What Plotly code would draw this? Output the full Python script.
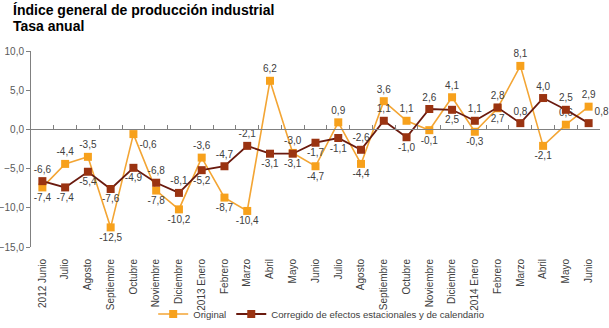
import plotly.graph_objects as go

# Month labels (June 2012 - June 2014)
months = ["2012 Junio", "Julio", "Agosto", "Septiembre", "Octubre", "Noviembre",
          "Diciembre", "2013 Enero", "Febrero", "Marzo", "Abril", "Mayo", "Junio",
          "Julio", "Agosto", "Septiembre", "Octubre", "Noviembre", "Diciembre",
          "2014 Enero", "Febrero", "Marzo", "Abril", "Mayo", "Junio"]

# Annual rate, original series
original = [-7.4, -4.4, -3.5, -12.5, -0.6, -7.8, -10.2, -3.6, -8.7, -10.4, 6.2, -3.0,
            -4.7, 0.9, -4.4, 3.6, 1.1, -0.1, 4.1, -0.3, 2.7, 8.1, -2.1, 0.6, 2.9]

# Annual rate, seasonally and calendar adjusted
corregido = [-6.6, -7.4, -5.4, -7.6, -4.9, -6.8, -8.1, -5.2, -4.7, -2.1, -3.1, -3.1,
             -1.7, -1.1, -2.6, 1.1, -1.0, 2.6, 2.5, 1.1, 2.8, 0.8, 4.0, 2.5, 0.8]

# Label placement per point
pos_original = ["bottom center", "top center", "top center", "bottom center", "bottom right",
                "bottom center", "bottom center", "top center", "bottom center", "bottom center",
                "top center", "top center", "bottom center", "top center", "bottom center",
                "top center", "top center", "bottom center", "top center", "bottom center",
                "bottom center", "top center", "bottom center", "top center", "top center"]
pos_corregido = ["top center", "bottom center", "bottom center", "bottom center", "bottom center",
                 "top center", "top center", "bottom center", "top center", "top center",
                 "bottom center", "bottom center", "bottom center", "bottom center", "top center",
                 "top center", "bottom center", "top center", "bottom center", "top center",
                 "top center", "top center", "top center", "top center", "top right"]

idx = list(range(len(months)))


def fmt(v):
    return f"{v:.1f}".replace(".", ",")


ORANGE_LINE = "#F3A534"
ORANGE_MARK = "#F7A11C"
DARK_LINE = "#6A1A0E"
DARK_MARK = "#9A3311"
FONT = "Liberation Sans, Arial, sans-serif"
LABEL_FONT = dict(family=FONT, size=10, color="#404040")

fig = go.Figure()

fig.add_trace(go.Scatter(
    x=idx, y=original, name="Original", mode="lines+markers+text",
    line=dict(color=ORANGE_LINE, width=1.6),
    marker=dict(symbol="square", size=8, color=ORANGE_MARK),
    text=[fmt(v) for v in original], textposition=pos_original,
    textfont=LABEL_FONT, cliponaxis=False,
    xaxis="x", yaxis="y",
))

fig.add_trace(go.Scatter(
    x=idx, y=corregido, name="Corregido de efectos estacionales y de calendario",
    mode="lines+markers+text",
    line=dict(color=DARK_LINE, width=1.8),
    marker=dict(symbol="square", size=8, color=DARK_MARK),
    text=[fmt(v) for v in corregido], textposition=pos_corregido,
    textfont=LABEL_FONT, cliponaxis=False,
    xaxis="x2", yaxis="y",
))

xrange = [-0.5, len(months) - 0.5]
ymin, ymax = -15, 10
plot_h = 328 - 51 - 81

fig.update_layout(
    width=609, height=328,
    margin=dict(l=31, r=9, t=51, b=81, autoexpand=False),
    paper_bgcolor="white", plot_bgcolor="white",
    separators=",.",
    font=dict(family=FONT, size=10, color="#404040"),
    showlegend=True,
    legend=dict(orientation="h", x=0.51, xanchor="center",
                y=(247 - 314) / plot_h, yanchor="middle",
                font=dict(family=FONT, size=9.6, color="#404040"), itemwidth=30,
                tracegroupgap=0, bgcolor="rgba(0,0,0,0)"),
    xaxis=dict(
        range=xrange, tickmode="array", tickvals=idx, ticktext=months,
        tickangle=-90, showline=False, showgrid=False, zeroline=False,
        ticks="", ticklabelstandoff=9, automargin=False,
        tickfont=dict(family=FONT, size=10, color="#404040"),
    ),
    xaxis2=dict(
        range=xrange, overlaying="x", anchor="free",
        position=(0 - ymin) / (ymax - ymin), side="bottom",
        tickmode="array", tickvals=[i - 0.5 for i in range(len(months) + 1)],
        ticks="inside", ticklen=4, tickcolor="#808080", tickwidth=1,
        showline=True, linecolor="#808080", linewidth=1,
        showticklabels=False, showgrid=False, zeroline=False,
    ),
    yaxis=dict(
        range=[ymin, ymax], tickmode="array", tickvals=[10, 5, 0, -5, -10, -15],
        tickformat=".1f", showline=True, linecolor="#808080", linewidth=1,
        ticks="outside", ticklen=4, tickcolor="#808080",
        showgrid=False, zeroline=False, automargin=False,
        tickfont=dict(family=FONT, size=10, color="#595959"),
    ),
)

# Chart heading, two lines
heading_x = (12 - 31) / 569
for line_text, py in [("<b>Índice general de producción industrial</b>", 10),
                      ("<b>Tasa anual</b>", 26)]:
    fig.add_annotation(text=line_text, xref="paper", yref="paper",
                       x=heading_x, y=(247 - py) / plot_h,
                       xanchor="left", yanchor="middle", showarrow=False, borderpad=0,
                       font=dict(family=FONT, size=14, color="#000000"))

fig.write_html("out.html")
